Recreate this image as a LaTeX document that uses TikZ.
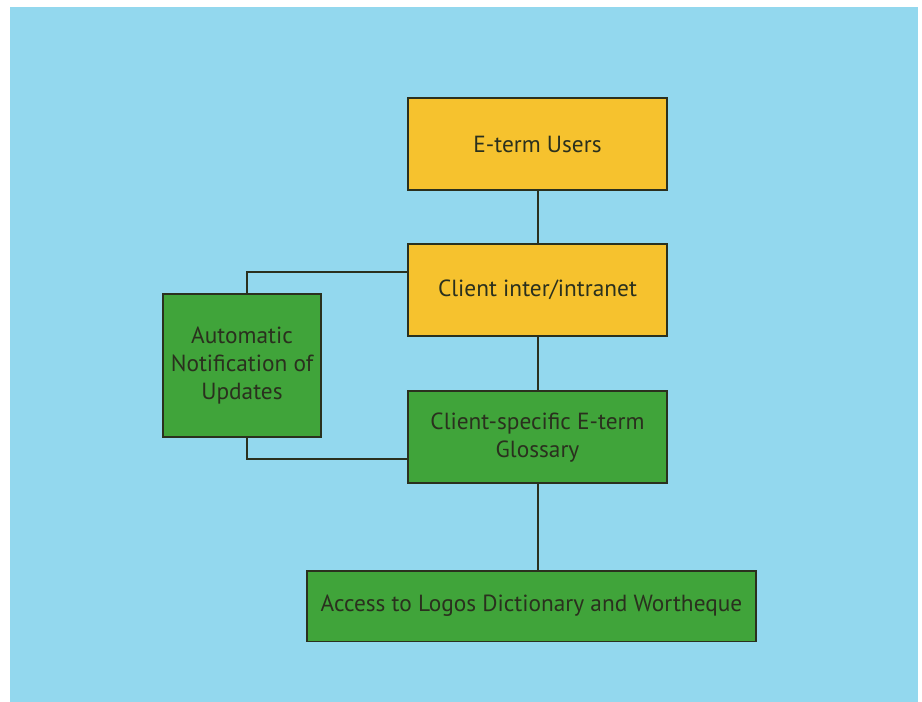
\documentclass[tikz,border=0pt]{standalone}
\usepackage{fontspec}
\setmainfont{PT Sans}
\usepackage{xcolor}
\usetikzlibrary{positioning}
\definecolor{skyblue}{RGB}{147,216,238}
\definecolor{boxgold}{RGB}{246,194,46}
\definecolor{boxgreen}{RGB}{64,164,58}
\definecolor{inkdark}{RGB}{42,48,30}
\tikzset{
  % box styles
  userbox/.style={rectangle, minimum width=194pt, minimum height=69pt, text centered, draw=inkdark, fill=#1, line width=1.2pt, text=inkdark, font=\fontsize{17.5}{21}\selectfont, align=center},
  userbox/.default={boxgold},
  link/.style={draw=inkdark, line width=1.5pt},
}
\begin{document}
\begin{tikzpicture}[x=0.75pt, y=-0.75pt, node distance=40pt]
    \useasboundingbox (0,0) rectangle (922,702);
    \fill[skyblue] (10,7) rectangle (918,702);

    % main column
    \node[userbox] (users) at (537.5,144) {E-term Users};
    \node[userbox, below=39.5pt of users] (client) {Client inter/intranet};
    \node[userbox=boxgreen, below=40pt of client] (gloss) {Client-specific E-term\\Glossary};
    \node[userbox=boxgreen, minimum width=337pt, minimum height=53pt, below=64.5pt of gloss, xshift=-4.5pt] (logos) {Access to Logos Dictionary and Wortheque};

    % side box
    \node[userbox=boxgreen, minimum width=118.5pt, minimum height=107pt] (notify) at (242,365.5) {Automatic\\Notification of\\Updates};

    % links
    \draw[link] (users) -- (client);
    \draw[link] (client) -- (gloss);
    \draw[link] (gloss.south) -- (gloss.south |- logos.north);
    \draw[link] ([yshift=13.5pt]client.west) -| ([xshift=3.5pt]notify.north);
    \draw[link] ([xshift=3.5pt]notify.south) |- ([yshift=-16.5pt]gloss.west);
\end{tikzpicture}
\end{document}
